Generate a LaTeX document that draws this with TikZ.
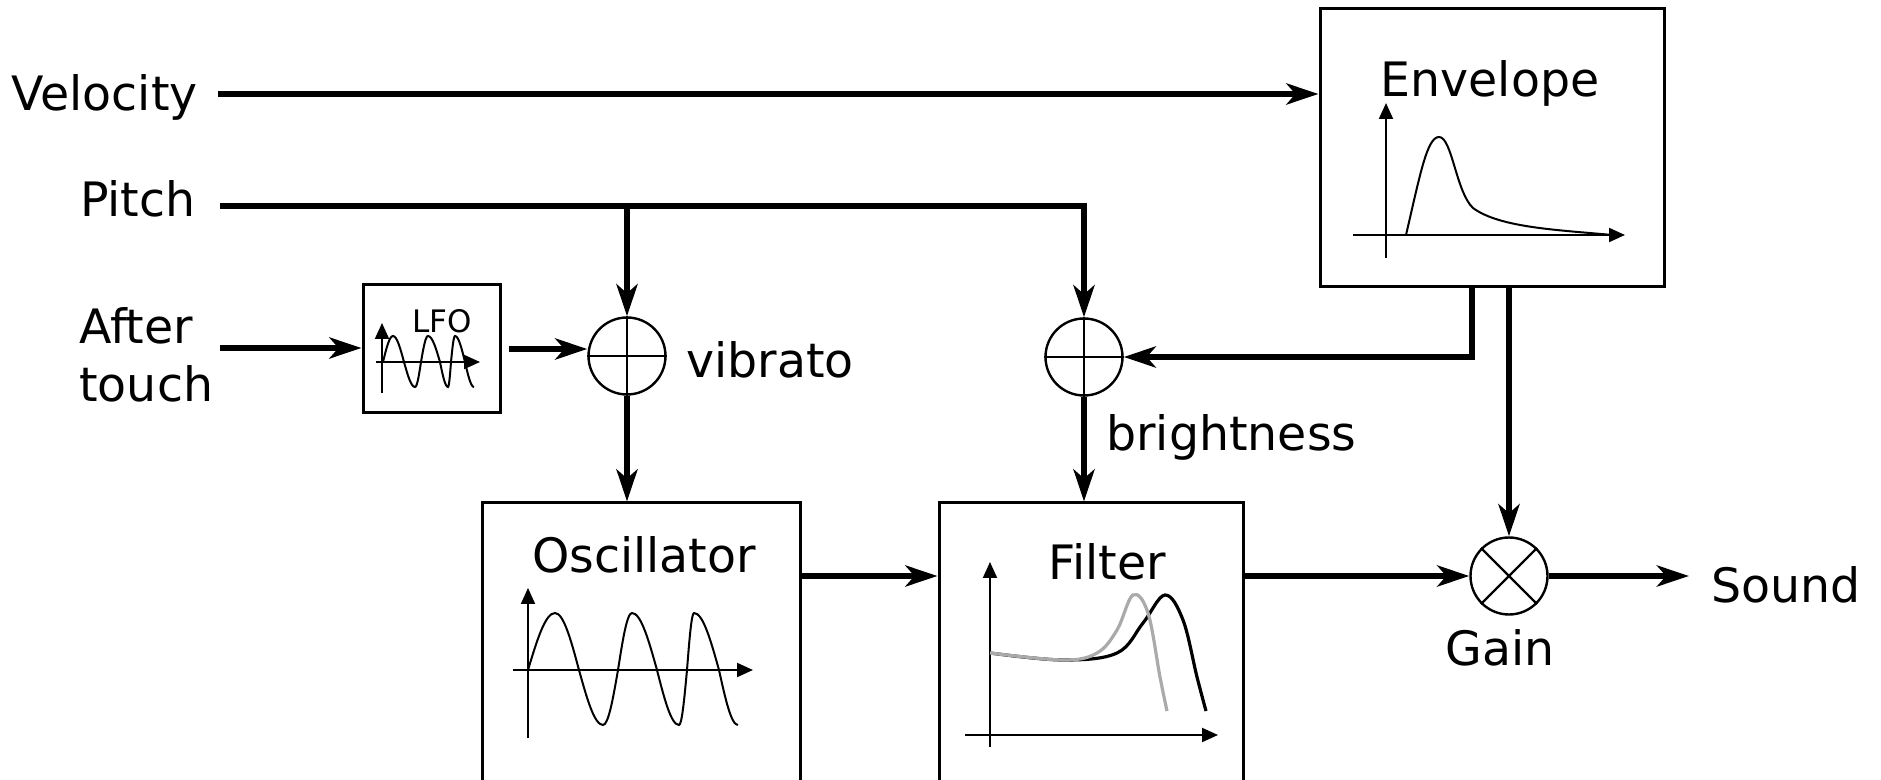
\documentclass[tikz,border=0pt]{standalone}
\usepackage{fontspec}
\setmainfont{DejaVu Sans}
\usetikzlibrary{arrows.meta,calc}
\definecolor{curvegray}{RGB}{170,170,170}
\tikzset{
  sig/.style={line width=3.3pt, -{Stealth[length=16pt,width=10.5pt,inset=4.5pt]}},
  blk/.style={draw, line width=1.5pt, inner sep=0pt},
  adder/.style={draw, circle, line width=1.2pt, minimum size=38.5pt, inner sep=0pt},
  crossline/.style={line width=1.2pt},
  axis/.style={line width=1pt, -{Triangle[length=8pt,width=7pt]}},
  wave/.style={line width=1pt},
  fcurve/.style={line width=1.6pt},
  lbl/.style={inner sep=0pt, font=\fontsize{23.7pt}{29pt}\selectfont},
  smalllbl/.style={inner sep=0pt, font=\fontsize{15.5pt}{18pt}\selectfont},
}
\begin{document}
\begin{tikzpicture}[x=0.5pt,y=-0.5pt]
\useasboundingbox (0,0) rectangle (1881,780);
\fill[white] (0,0) rectangle (1881,780);
% blocks
\node[blk, minimum width=172pt, minimum height=139pt] (env) at (1492,148) {};
\node[blk, minimum width=68.5pt, minimum height=64pt] (lfo) at (431.5,349) {};
\node[blk, minimum width=159pt, minimum height=170pt] (osc) at (641,673) {};
\node[blk, minimum width=152pt, minimum height=170pt] (filt) at (1091,673) {};
\node[adder] (add1) at (627,356) {};
\node[adder] (add2) at (1084,357) {};
\node[adder] (gain) at (1509,576) {};
\draw[crossline] (add1.north) -- (add1.south) (add1.west) -- (add1.east);
\draw[crossline] (add2.north) -- (add2.south) (add2.west) -- (add2.east);
\draw[crossline] (gain.45) -- (gain.225) (gain.135) -- (gain.315);
% texts
\node[lbl, anchor=base east] (tvel) at (198,111) {Velocity};
\node[lbl, anchor=base east] (tpitch) at (196,217) {Pitch};
\node[lbl, anchor=north west, align=left] (tafter) at (79,307) {After\\touch};
\node[lbl, anchor=base] (tenv) at (1490,97) {Envelope};
\node[lbl, anchor=base] (tosc) at (644,573) {Oscillator};
\node[lbl, anchor=base] (tfilt) at (1107,580) {Filter};
\node[smalllbl, anchor=base] (tlfo) at (442,333) {LFO};
\node[lbl, anchor=base west] (tvib) at (686,378) {vibrato};
\node[lbl, anchor=base west] (tbright) at (1106,451) {brightness};
\node[lbl, anchor=base] (tgain) at (1500,666) {Gain};
\node[lbl, anchor=base west] (tsound) at (1711,603) {Sound};
% free ends
\coordinate (velin) at (218,94);
\coordinate (pitchin) at (220,206);
\coordinate (atin) at (220,348);
\coordinate (envout) at ($(env.south)+(-20,0)$);
% connectors
\draw[sig] (velin) -- (velin -| env.west);
\draw[sig] (pitchin) -- (pitchin -| add2.north) -- (add2.north);
\draw[sig] (add1.north |- pitchin) -- (add1.north);
\draw[sig] (atin) -- (atin -| lfo.west);
\draw[sig, shorten <=3.5pt] (lfo.east) -- (lfo.east -| add1.west);
\draw[sig] (add1.south) -- (add1.south |- osc.north);
\draw[sig] (add2.south) -- (add2.south |- filt.north);
\draw[sig] (envout) -- (envout |- add2.east) -- (add2.east);
\draw[sig] (gain.north |- env.south) -- (gain.north);
\draw[sig] (osc.east |- gain) -- (filt.west |- gain);
\draw[sig] (filt.east |- gain) -- (gain.west);
\draw[sig, shorten >=11pt] (gain.east) -- (gain.east -| tsound.west);
% envelope graph
\draw[axis] (1386,258) -- (1386,103);
\draw[axis] (1353,235) -- (1625,235);
\draw[wave] (1406,235) .. controls (1420,175) and (1427,137) .. (1439,137)
  .. controls (1452,137) and (1456,192) .. (1473,208)
  .. controls (1500,228) and (1560,230) .. (1612,235);
% LFO graph
\draw[axis] (382,393) -- (382,323);
\draw[axis] (376,362) -- (480,362);
\draw[wave] (383,362) sin (393,336) cos (404,362) sin (415,387) cos (421,362)
  sin (428,336) cos (440,362) sin (448,387) cos (451,362) sin (455,336)
  cos (465,362) sin (474,387);
% oscillator graph
\draw[axis] (528,738) -- (528,588);
\draw[axis] (513,670) -- (753,670);
\draw[wave] (528,670) sin (555,613) cos (579,670) sin (603,725) cos (618,670)
  sin (632,613) cos (657,670) sin (679,725) cos (687,670) sin (694,613)
  cos (719,670) sin (738,725);
% filter graph
\draw[axis] (990,747) -- (990,562);
\draw[axis] (965,735) -- (1218,735);
\draw[fcurve] plot[smooth, tension=0.6] coordinates {(990,653) (1063,660) (1117,653) (1143,623) (1165,595) (1183,620) (1197,677) (1206,711)};
\draw[fcurve, curvegray] plot[smooth, tension=0.6] coordinates {(990,653) (1063,660) (1097,653) (1117,630) (1133,595) (1148,613) (1160,677) (1167,711)};
\end{tikzpicture}
\end{document}
